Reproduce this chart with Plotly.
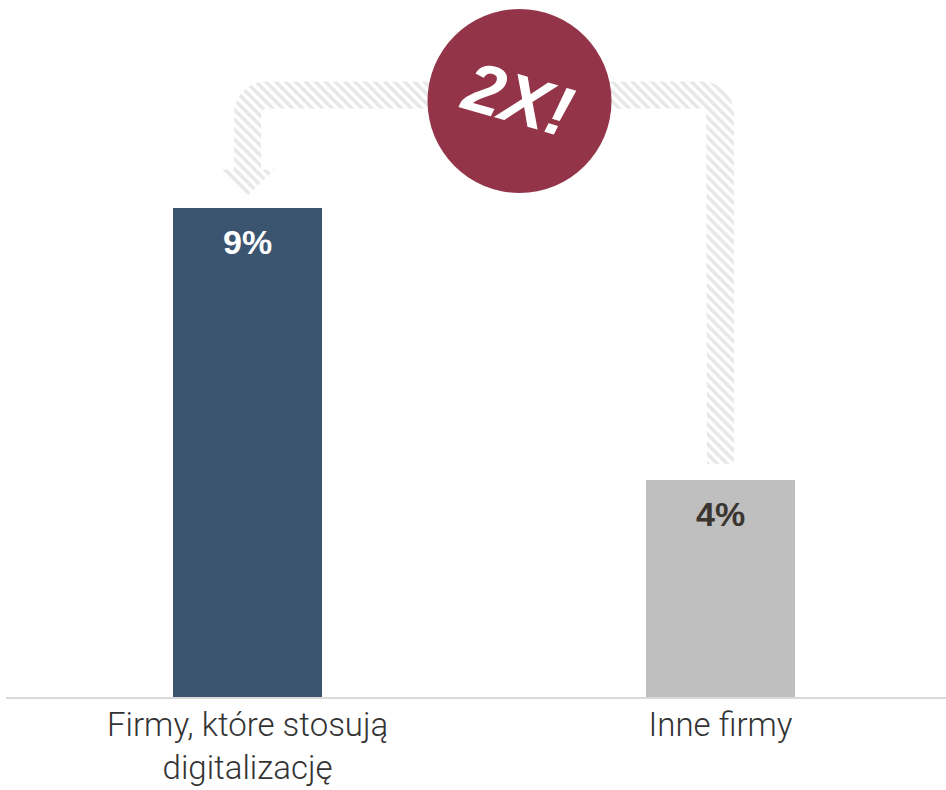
import math
import plotly.graph_objects as go

# Data
categories = ["Firmy, które stosują<br>digitalizację", "Inne firmy"]
values = [9, 4]
value_labels = ["9%", "4%"]
bar_colors = ["#3b5570", "#bfbfbf"]
label_colors = ["#ffffff", "#3b3530"]
badge_text = "2X!"

# Layout geometry
W, H = 946, 790
M_L, M_R, M_T, M_B = 6, 0, 0, 93
PLOT_W = W - M_L - M_R
PLOT_H = H - M_T - M_B
X_RANGE = [-0.511, 1.477]
Y_RANGE = [0, 12.84]
xs = list(range(len(categories)))


def to_px_x(x):
    return M_L + (x - X_RANGE[0]) / (X_RANGE[1] - X_RANGE[0]) * PLOT_W


def to_px_y(y):
    return M_T + (Y_RANGE[1] - y) / (Y_RANGE[1] - Y_RANGE[0]) * PLOT_H


def from_px(px, py):
    x = X_RANGE[0] + (px - M_L) / PLOT_W * (X_RANGE[1] - X_RANGE[0])
    y = Y_RANGE[1] - (py - M_T) / PLOT_H * (Y_RANGE[1] - Y_RANGE[0])
    return x, y


def arc(cx, cy, r, a0, a1, n=12):
    pts = []
    for i in range(n + 1):
        t = math.radians(a0 + (a1 - a0) * i / n)
        pts.append((cx + r * math.cos(t), cy + r * math.sin(t)))
    return pts


# Curved hatched arrow from the smaller bar back to the larger one
Lx, Rx = to_px_x(xs[0]), to_px_x(xs[1])
hw = 13.5          # half thickness of the band
hy = 95            # centre line of the horizontal band
ro, ri = 32, 5     # outer / inner corner radii
head_hw = 27
tip_y = to_px_y(values[0]) - 13
head_base = tip_y - 26
right_bottom = to_px_y(values[1]) - 16

pts = []
pts.append((Rx - hw, right_bottom))
pts += arc(Rx - hw - ri, hy + hw + ri, ri, 0, -90)
pts += arc(Lx + hw + ri, hy + hw + ri, ri, -90, -180)
pts += [(Lx + hw, head_base), (Lx + head_hw, head_base), (Lx, tip_y),
        (Lx - head_hw, head_base), (Lx - hw, head_base)]
pts += arc(Lx - hw + ro, hy - hw + ro, ro, 180, 270)
pts += arc(Rx + hw - ro, hy - hw + ro, ro, 270, 360)
pts.append((Rx + hw, right_bottom))
pts.append(pts[0])
arrow = [from_px(px, py) for px, py in pts]

fig = go.Figure()

fig.add_trace(go.Scatter(
    x=[p[0] for p in arrow], y=[p[1] for p in arrow],
    mode="lines", fill="toself", line=dict(width=0, color="rgba(0,0,0,0)"),
    fillcolor="rgba(0,0,0,0)",
    fillpattern=dict(shape="\\", fgcolor="#cfcfcf", bgcolor="#ffffff",
                     size=7, solidity=0.5),
    hoverinfo="skip", showlegend=False,
))

fig.add_trace(go.Bar(
    x=xs, y=values, width=0.315,
    marker=dict(color=bar_colors, line=dict(width=0)),
    hoverinfo="skip", showlegend=False,
))

for x, v, lab, c in zip(xs, values, value_labels, label_colors):
    fig.add_annotation(
        x=x, y=v, text=lab, showarrow=False, yanchor="middle", yshift=-34,
        font=dict(family="Liberation Sans, Arial, sans-serif", size=34,
                  color=c, weight="bold"),
    )

# Badge circle
cx, cy, r = 519.5, 101, 92
fig.add_shape(
    type="circle", xref="paper", yref="paper", layer="above",
    x0=(cx - r - M_L) / PLOT_W, x1=(cx + r - M_L) / PLOT_W,
    y0=1 - (cy + r - M_T) / PLOT_H, y1=1 - (cy - r - M_T) / PLOT_H,
    fillcolor="#943448", line=dict(width=0),
)
fig.add_annotation(
    xref="paper", yref="paper",
    x=(cx - 2 - M_L) / PLOT_W, y=1 - (cy - 2 - M_T) / PLOT_H,
    text=badge_text, showarrow=False, textangle=16,
    xanchor="center", yanchor="middle",
    font=dict(family="Liberation Sans, Arial, sans-serif", size=70,
              color="#ffffff", weight="bold", style="italic"),
)

fig.update_layout(
    width=W, height=H,
    margin=dict(l=M_L, r=M_R, t=M_T, b=M_B, pad=0, autoexpand=False),
    paper_bgcolor="#ffffff", plot_bgcolor="#ffffff",
    xaxis=dict(range=X_RANGE, tickmode="array", tickvals=xs, ticktext=categories,
               showgrid=False, zeroline=False, showline=True, automargin=False,
               linecolor="#d9d9d9", linewidth=2, ticks="",
               ticklabelstandoff=-3,
               tickfont=dict(family="Roboto, Liberation Sans, sans-serif",
                             size=33, color="#333333", weight=300),
               fixedrange=True),
    yaxis=dict(range=Y_RANGE, visible=False, fixedrange=True),
    bargap=0,
)

fig.write_html("out.html")
